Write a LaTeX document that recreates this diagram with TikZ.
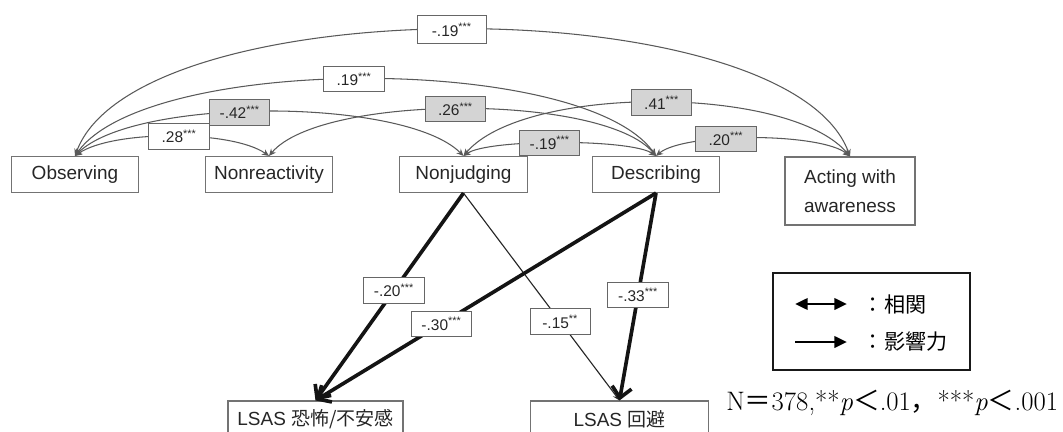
\documentclass[tikz,border=0pt]{standalone}
\usepackage{fontspec}
\setsansfont{Liberation Sans}
\newfontfamily\cjk{Noto Sans CJK JP}
\usetikzlibrary{arrows.meta}
\tikzset{var/.style = {draw=black!55, fill=white, line width=0.8pt, rectangle, minimum height=25.6pt, minimum width=90.5pt, text=black!85, font=\sffamily\fontsize{13.5}{16}\selectfont},
         coef/.style = {draw=black!60, fill=white, line width=0.7pt, rectangle, minimum height=18pt, minimum width=43pt, inner sep=1pt, text=black!85, font=\sffamily\fontsize{11}{13}\selectfont},
         gcoef/.style = {coef, fill=black!17},
         corr/.style = {{Stealth[length=5pt,width=4.5pt]}-{Stealth[length=5pt,width=4.5pt]}, draw=black!65, line width=0.75pt},
         eff/.style = {-{Straight Barb[length=7.5pt,width=14pt]}, draw=black!92, line width=2.6pt},
         weff/.style = {-{Stealth[length=5pt,width=4pt]}, draw=black!85, line width=0.8pt}}
\begin{document}
\begin{tikzpicture}[x=0.025cm,y=-0.025cm]
    \useasboundingbox (0,0) rectangle (1063,432);
    \node[var](obs)at(75,174.5){Observing};
    \node[var](nonr)at(269,174.5){Nonreactivity};
    \node[var](nonj)at(463.5,174.5){Nonjudging};
    \node[var](desc)at(656,174.5){Describing};
    \node[var,minimum width=92.5pt,minimum height=48.4pt,align=center,font=\sffamily\fontsize{13.5}{21}\selectfont](act)at(850,191){Acting with\\awareness};
    \node[var,minimum width=124.5pt](fear)at(315.5,419){LSAS {\cjk 恐怖/不安感}};
    \node[var,minimum width=126pt](avoid)at(619.5,419){LSAS {\cjk 回避}};

    \draw[corr](obs.north) to[out=70,in=110,looseness=0.594] node[coef,pos=0.49,minimum width=49pt,minimum height=20pt](c1){-.19\textsuperscript{***}} (act.north);
    \draw[corr](obs.north) to[out=55,in=125,looseness=0.551] node[coef,pos=0.485](c2){.19\textsuperscript{***}} (desc.north);
    \draw[corr](obs.north) to[out=45,in=135,looseness=0.55] node[gcoef,pos=0.44](c3){-.42\textsuperscript{***}} (nonj.north);
    \draw[corr](obs.north) to[out=35,in=145,looseness=0.6] node[coef,pos=0.53](c4){.28\textsuperscript{***}} (nonr.north);
    \draw[corr](nonr.north) to[out=50,in=130,looseness=0.54] node[gcoef,pos=0.486](c5){.26\textsuperscript{***}} (desc.north);
    \draw[corr](nonj.north) to[out=50,in=130,looseness=0.62] node[gcoef,pos=0.51](c6){.41\textsuperscript{***}} (act.north);
    \draw[corr](nonj.north) to[out=35,in=145,looseness=0.40] node[gcoef,pos=0.46](c7){-.19\textsuperscript{***}} (desc.north);
    \draw[corr](desc.north) to[out=40,in=140,looseness=0.49] node[gcoef,pos=0.39](c8){.20\textsuperscript{***}} (act.north);

    \draw[weff](nonj.south) -- node[coef,pos=0.62](c11){-.15\textsuperscript{**}} (avoid.north);
    \draw[eff](nonj.south) -- node[coef,pos=0.47](c9){-.20\textsuperscript{***}} (fear.north);
    \draw[eff](desc.south) -- node[coef,pos=0.63](c10){-.30\textsuperscript{***}} (fear.north);
    \draw[eff](desc.south) -- node[coef,pos=0.49](c12){-.33\textsuperscript{***}} (avoid.north);

    \node[draw=black!90,line width=1pt,minimum width=140pt,minimum height=69pt](leg)at(871.5,321.5){};
    \coordinate(l1a)at(795,304); \coordinate(l1b)at(847,304);
    \coordinate(l2a)at(795,342); \coordinate(l2b)at(847,342);
    \draw[{Triangle[length=9pt,width=8pt]}-{Triangle[length=9pt,width=8pt]},line width=2pt](l1a)--(l1b);
    \draw[-{Triangle[length=9pt,width=8pt]},line width=2pt](l2a)--(l2b);
    \node[anchor=west,font=\cjk\fontsize{15}{18}\selectfont](t1)at(858,304){：相関};
    \node[anchor=west,font=\cjk\fontsize{15}{18}\selectfont](t2)at(858,342){：影響力};
    \node[anchor=east,font=\fontsize{19}{22}\selectfont](note)at(1063,403){N{\cjk ＝}378,**\textit{p}{\cjk ＜}.01{\cjk ，}***\textit{p}{\cjk ＜}.001};
\end{tikzpicture}
\end{document}
